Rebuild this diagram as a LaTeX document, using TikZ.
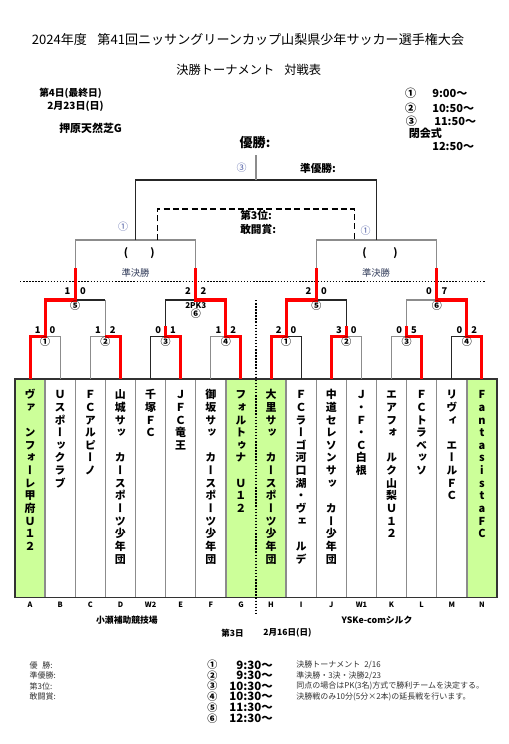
\documentclass[tikz,border=0pt]{standalone}
\usepackage{fontspec}
\setmainfont{Noto Sans CJK JP}
\newfontfamily\vjp[RawFeature=+vert]{Noto Sans CJK JP}
\definecolor{tgreen}{RGB}{204,255,153}
\definecolor{cblue}{RGB}{80,95,165}
\definecolor{cslate}{RGB}{50,60,90}
\newcommand\team[2]{\foreach \c [count=\k from 0] in {#2} {\node[tch] (ch#1-\k) at ({15+30.125*(#1+0.5)},{398.7+12.65*\k}) {\c};}}
\begin{document}
\begin{tikzpicture}[x=0.75pt,y=-0.75pt,
  gl/.style={draw=black!45, line width=0.8pt},
  bl/.style={draw=black!85, line width=0.8pt},
  rl/.style={draw=red, line width=2.3pt},
  sc/.style={font=\bfseries\fontsize{7}{7}\selectfont, inner sep=0pt},
  cn/.style={font=\bfseries\fontsize{7.5}{7.5}\selectfont, inner sep=0pt},
  tch/.style={font=\vjp\bfseries\fontsize{8.2}{8.2}\selectfont, inner sep=0pt, anchor=base},
  lab/.style={font=\bfseries\fontsize{5.5}{5.5}\selectfont, inner sep=0pt},
  tr/.style={font=\bfseries\fontsize{8.3}{8.3}\selectfont, inner sep=0pt},
  bt/.style={font=\bfseries\fontsize{8}{8}\selectfont, inner sep=0pt},
  blu/.style={font=\fontsize{7.5}{7.5}\selectfont, text=cblue, inner sep=0pt},
  sf/.style={font=\fontsize{7}{7}\selectfont, text=cslate, inner sep=0pt},
  lg/.style={font=\fontsize{6}{6}\selectfont, text=black!80, inner sep=0pt, anchor=west},
  lt/.style={font=\bfseries\fontsize{8.6}{8.6}\selectfont, inner sep=0pt, anchor=east},
  dotl/.style={draw=black, line width=1.1pt, dash pattern=on 1.1pt off 1.2pt},
  dashl/.style={draw=black, line width=1.1pt, dash pattern=on 4.5pt off 2.5pt}]
\useasboundingbox (0,0) rectangle (508,744);
\fill[white] (0,0) rectangle (508,744);

% ---- titles
\node[font=\fontsize{9.8}{10}\selectfont, inner sep=0pt] (title) at (248,40) {2024年度\hspace{0.8em}第41回ニッサングリーンカップ山梨県少年サッカー選手権大会};
\node[font=\fontsize{9.2}{10}\selectfont, inner sep=0pt] (sub) at (248.7,70) {決勝トーナメント\hspace{0.8em}対戦表};

\node[font=\bfseries\fontsize{7.3}{7.3}\selectfont, inner sep=0pt, anchor=west] (d4) at (39,93.3) {第4日(最終日)};
\node[font=\bfseries\fontsize{7.5}{7.5}\selectfont, inner sep=0pt, anchor=west] (d4d) at (47,106.7) {2月23日(日)};
\node[font=\bfseries\fontsize{8.2}{8.2}\selectfont, inner sep=0pt, anchor=west] (ven) at (59,128.3) {押原天然芝G};

\node[tr] (tc1) at (410.7,93.3) {①};
\node[tr, anchor=west] (tt1) at (432,93.3) {9:00～};
\node[tr] (tc2) at (410.7,108.3) {②};
\node[tr, anchor=west] (tt2) at (432,108.3) {10:50～};
\node[tr] (tc3) at (411.5,121) {③};
\node[tr, anchor=west] (tt3) at (434,121) {11:50～};
\node[tr, anchor=west] (tcl) at (408.5,133.3) {閉会式};
\node[tr, anchor=west] (tt4) at (432,146) {12:50～};

% ---- coordinates
\foreach \n [count=\i from 0] in {A,B,C,D,W2,E,F,G,H,I,J,W1,K,L,M,N} {
  \coordinate (t\n) at ({15+30.125*(\i+0.5)},379);
}
\coordinate (m1) at (45.125,336.7);
\coordinate (m2) at (105.375,336.7);
\coordinate (m3) at (165.625,336.7);
\coordinate (m4) at (225.875,336.7);
\coordinate (m5) at (286.125,336.7);
\coordinate (m6) at (346.375,336.7);
\coordinate (m7) at (406.625,336.7);
\coordinate (m8) at (466.875,336.7);
\coordinate (q1) at (75.25,300);
\coordinate (q2) at (195.75,300);
\coordinate (q3) at (316.25,300);
\coordinate (q4) at (436.75,300);
\coordinate (q1r) at (75.25,268);
\coordinate (q2r) at (195.75,268);
\coordinate (q3r) at (316.25,268);
\coordinate (q4r) at (436.75,268);
\coordinate (s1) at (135.5,240);
\coordinate (s2) at (376.5,240);
\coordinate (f) at (256,180);
\coordinate (top) at (256,155);
\coordinate (dl) at (157.3,240);
\coordinate (dr) at (354.5,240);
\coordinate (dt) at (256,209);

% ---- team boxes
\foreach \i in {0,7,8,15} {
  \fill[tgreen] ({15+30.125*\i},379) rectangle ++(30.125,218.7);
}
\foreach \i in {1,...,7,9,10,...,15} {
  \draw[draw=black!45, line width=1pt] ({15+30.125*\i},379) -- ++(0,218.7);
}
\draw[draw=black!80, line width=0.8pt] (15,379) rectangle (497,597.7);
\draw[dotl] (256,300) -- (256,613);

% ---- thin bracket lines
\draw[gl] (m1) -| (tB);
\draw[gl] (tC) |- (m2);
\draw[gl] (m2) -- (m2 |- q1);
\draw[bl] (q1) -- (m2 |- q1);
\draw[bl] (tW2) |- (m3);
\draw[bl] (m3) |- (q2);
\draw[gl] (tF) |- (m4);
\draw[bl] (m5) -| (tI);
\draw[bl] (m6) |- (q3);
\draw[gl] (m6) -| (tW1);
\draw[gl] (tK) |- (m7);
\draw[gl] (m7) |- (q4);
\draw[bl] (tM) |- (m8);
\draw[gl] (s1) -| (q1r);
\draw[gl] (s1) -| (q2r);
\draw[gl] (s2) -| (q3r);
\draw[gl] (s2) -| (q4r);
\draw[bl] (s1) |- (f) -| (s2);
\draw[gl] (f) -- (top);
\draw[dashl] (dl) |- (dt) -| (dr);
\draw[dotl] (20,281.7) -- (485,281.7);

% ---- red winner paths
\draw[rl] (tA) |- (m1) |- (q1) -- (q1r);
\draw[rl] (tD) |- (m2);
\draw[rl] (tE) |- (m3) -- ++(0,-10.7);
\draw[rl] (tG) |- (m4) |- (q2) -- (q2r);
\draw[rl] (tH) |- (m5) |- (q3) -- (q3r);
\draw[rl] (tJ) |- (m6) -- ++(0,-10.7);
\draw[rl] (tL) |- (m7) -- ++(0,-10.7);
\draw[rl] (tN) |- (m8) |- (q4) -- (q4r);

% ---- match numbers
\node[cn] (n1) at (45.125,341.7) {①};
\node[cn] (n2) at (105.375,341.7) {②};
\node[cn] (n3) at (165.625,341.7) {③};
\node[cn] (n4) at (225.875,341.7) {④};
\node[cn] (n5) at (286.125,341.7) {①};
\node[cn] (n6) at (346.375,341.7) {②};
\node[cn] (n7) at (406.625,341.7) {③};
\node[cn] (n8) at (466.875,341.7) {④};
\node[cn] (n9) at (75.25,305.5) {⑤};
\node[font=\bfseries\fontsize{6}{6}\selectfont, inner sep=0pt] (pk) at (195.75,305.3) {2PK3};
\node[cn] (n10) at (195.75,314) {⑥};
\node[cn] (n11) at (316.25,305.5) {⑤};
\node[cn] (n12) at (436.75,305.5) {⑥};

% ---- scores
\foreach \x/\a/\b [count=\j] in {45.125/1/0,105.375/1/2,165.625/0/1,225.875/1/2,286.125/2/0,346.375/3/0,406.625/0/5,466.875/0/2} {
  \node[sc] (sa\j) at (\x-7.3,330.5) {\a};
  \node[sc] (sb\j) at (\x+7.3,330.5) {\b};
}
\foreach \x/\a/\b [count=\j] in {75.25/1/0,195.75/2/2,316.25/2/0,436.75/0/7} {
  \node[sc] (ra\j) at (\x-7.8,291.5) {\a};
  \node[sc] (rb\j) at (\x+7.8,291.5) {\b};
}

% ---- upper labels
\node[font=\bfseries\fontsize{9.8}{9.8}\selectfont, inner sep=0pt] (win) at (255,143) {優勝:};
\node[blu] (b3) at (241.7,168) {③};
\node[bt] (run) at (318,168) {準優勝:};
\node[bt, anchor=west] (third) at (240,215) {第3位:};
\node[bt, anchor=west] (fight) at (240,229) {敢闘賞:};
\node[blu] (b1l) at (123,226.7) {①};
\node[blu] (b1r) at (365.7,230.7) {①};
\node[bt] (pl1) at (126,253) {(};
\node[bt] (pl2) at (152.5,253) {)};
\node[bt] (pr1) at (364.5,253) {(};
\node[bt] (pr2) at (395.5,253) {)};
\node[sf] (sfl) at (135.5,272.7) {準決勝};
\node[sf] (sfr) at (376,272.7) {準決勝};

% ---- team names
\team{0}{ヴ,ァ,{},ン,フ,ォ,ー,レ,甲,府,Ｕ,１,２}
\team{1}{Ｕ,ス,ポ,ー,ッ,ク,ラ,ブ}
\team{2}{Ｆ,Ｃ,ア,ル,ピ,ー,ノ}
\team{3}{山,城,サ,ッ,{},カ,ー,ス,ポ,ー,ツ,少,年,団}
\team{4}{千,塚,Ｆ,Ｃ}
\team{5}{Ｊ,Ｆ,Ｃ,竜,王}
\team{6}{御,坂,サ,ッ,{},カ,ー,ス,ポ,ー,ツ,少,年,団}
\team{7}{フ,ォ,ル,ト,ゥ,ナ,{},Ｕ,１,２}
\team{8}{大,里,サ,ッ,{},カ,ー,ス,ポ,ー,ツ,少,年,団}
\team{9}{Ｆ,Ｃ,ラ,ー,ゴ,河,口,湖,・,ヴ,ェ,{},ル,デ}
\team{10}{中,道,セ,レ,ソ,ン,サ,ッ,{},カ,ー,少,年,団}
\team{11}{Ｊ,・,Ｆ,・,Ｃ,白,根}
\team{12}{エ,ア,フ,ォ,{},ル,ク,山,梨,Ｕ,１,２}
\team{13}{Ｆ,Ｃ,ト,ラ,ベ,ッ,ソ}
\team{14}{リ,ヴ,ィ,{},エ,ー,ル,Ｆ,Ｃ}
\team{15}{F,a,n,t,a,s,i,s,t,a,F,C}

% ---- column letters
\foreach \n [count=\i from 0] in {A,B,C,D,W2,E,F,G,H,I,J,W1,K,L,M,N} {
  \node[lab] (l\n) at ({15+30.125*(\i+0.5)},605) {\n};
}
\node[font=\bfseries\fontsize{6.6}{6.6}\selectfont, inner sep=0pt] (v1) at (127,620) {小瀬補助競技場};
\node[font=\bfseries\fontsize{6.6}{6.6}\selectfont, inner sep=0pt] (v2) at (377,620) {YSKe-comシルク};
\node[font=\bfseries\fontsize{6.4}{6.4}\selectfont, inner sep=0pt] (d3) at (232.5,633) {第3日};
\node[font=\bfseries\fontsize{6.4}{6.4}\selectfont, inner sep=0pt] (d3d) at (287.5,633) {2月16日(日)};

% ---- legend
\node[lg] (g1) at (29.3,665) {優\hspace{0.6em}勝:};
\node[lg] (g2) at (29.3,675.5) {準優勝:};
\node[lg] (g3) at (29.3,686) {第3位:};
\node[lg] (g4) at (29.3,696.7) {敢闘賞:};
\foreach \c/\t/\y [count=\j] in {①/9:30～/665,②/9:30～/675.5,③/10:30～/686,④/10:30～/696.7,⑤/11:30～/707.3,⑥/12:30～/718.3} {
  \node[font=\bfseries\fontsize{7.5}{7.5}\selectfont, inner sep=0pt] (lc\j) at (212.3,\y) {\c};
  \node[lt] (lt\j) at (273,\y) {\t};
}
\node[lg] (nt1) at (296,665) {決勝トーナメント\hspace{0.5em}2/16};
\node[lg] (nt2) at (296,675.5) {準決勝・3決・決勝2/23};
\node[lg] (nt3) at (296,686) {同点の場合はPK(3名)方式で勝利チームを決定する。};
\node[lg] (nt4) at (296,696.7) {決勝戦のみ10分(5分×2本)の延長戦を行います。};
\end{tikzpicture}
\end{document}
